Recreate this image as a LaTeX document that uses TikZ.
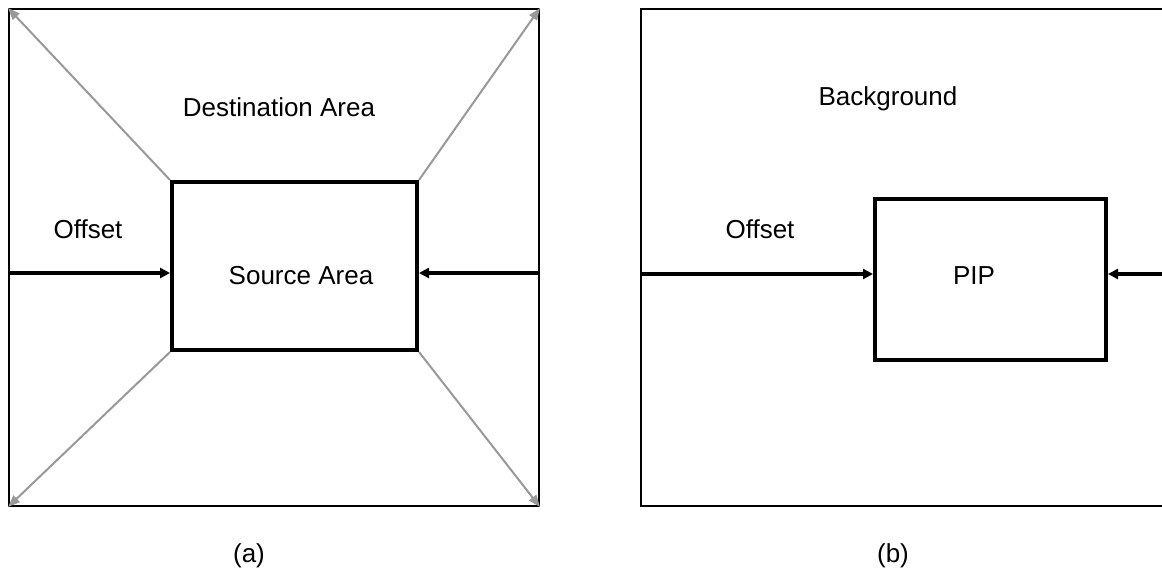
\documentclass[tikz,border=0pt]{standalone}
\usepackage{fontspec}
\setmainfont{Liberation Sans}
\usepackage{xcolor}
\usepackage{tikz}
\usetikzlibrary{positioning,arrows.meta}

\definecolor{guide}{RGB}{153,153,153}

\begin{document}
\begin{tikzpicture}[
  x=0.5pt, y=-0.5pt,
  font=\fontsize{13}{15}\selectfont,
  areabox/.style = {draw, rectangle, inner sep=0pt, line width=1pt,
                    minimum width=265pt, minimum height=248.5pt},
  inbox/.style   = {draw, rectangle, inner sep=0pt, line width=2pt},
  offarrow/.style = {-{Triangle[length=5pt, width=5pt]}, line width=2pt},
  spread/.style  = {-{Triangle[length=6pt, width=4.5pt]}, guide, line width=1pt},
  lbl/.style     = {inner sep=0pt},
]
\useasboundingbox (0,0) rectangle (1162,572);
\fill[white] (0,0) rectangle (1162,572);

% ---------- panel a ----------
\node[areabox] (dsta) at (274,257.5) {};
\node[inbox, minimum width=122.5pt, minimum height=84pt] (srca) at (294.5,266) {};
\coordinate (ya) at (0,273);

\draw[spread] (srca.north west) -- (dsta.north west);
\draw[spread] (srca.north east) -- (dsta.north east);
\draw[spread] (srca.south west) -- (dsta.south west);
\draw[spread] (srca.south east) -- (dsta.south east);

\draw[offarrow] (dsta.west |- ya) -- (srca.west |- ya);
\draw[offarrow] (dsta.east |- ya) -- (srca.east |- ya);

\node[lbl] (dstlbl) at (279,107) {Destination Area};
\node[lbl] (offa)   at (88,229)  {Offset};
\node[lbl] (srclbl) at (301,276) {Source Area};
\node[lbl] (capa)   at (249,556) {(a)};

% ---------- panel b ----------
\node[areabox] (bgb) at (906,257.5) {};
\node[inbox, minimum width=115.5pt, minimum height=80pt] (pip) at (990.5,279.5) {};
\coordinate (yb) at (0,274);

\draw[offarrow] (bgb.west |- yb) -- (pip.west |- yb);
\draw[offarrow] (bgb.east |- yb) -- (pip.east |- yb);

\node[lbl] (bglbl)  at (888,99)  {Background};
\node[lbl] (offb)   at (760,229) {Offset};
\node[lbl] (piplbl) at (974,276) {PIP};
\node[lbl] (capb)   at (893,556) {(b)};

\end{tikzpicture}
\end{document}
